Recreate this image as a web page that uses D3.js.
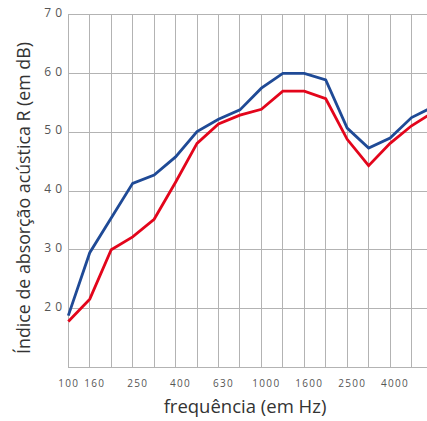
<!DOCTYPE html>
<html><head><meta charset="utf-8">
<script src="https://cdn.jsdelivr.net/npm/d3@7"></script>
<style>
html,body{margin:0;padding:0;background:#fff;}
svg{display:block;}
</style></head>
<body>
<script>
const bands = ["100","125","160","200","250","315","400","500","630","800","1000","1250","1600","2000","2500","3150","4000","5000"];
const blueSeries = [18.8, 29.5, 35.4, 41.3, 42.7, 45.8, 50.1, 52.2, 53.8, 57.5, 60.0, 60.0, 58.9, 50.7, 47.3, 49.0, 52.5, 54.3];
const redSeries  = [17.8, 21.6, 30.0, 32.2, 35.2, 41.5, 48.1, 51.4, 52.9, 53.9, 57.0, 57.0, 55.7, 48.8, 44.3, 48.1, 51.1, 53.4];
const xTickLabels = ["100","160","250","400","630","1000","1600","2500","4000"];
const xTickSlots  = [0, 1, 3, 5, 7, 9, 11, 13, 15];
const yTicks = [20, 30, 40, 50, 60, 70];

const W = 427, H = 421;
const svg = d3.select("body").append("svg").attr("width", W).attr("height", H);

const x = d3.scaleLinear().domain([0, bands.length - 1]).range([68.3, 433]);
const y = d3.scaleLinear().domain([10, 70]).range([367.3, 14.7]);

const grid = svg.append("g").attr("stroke", "#b3b3b3").attr("stroke-width", 1).attr("shape-rendering", "crispEdges");
grid.selectAll("line.v").data(bands).join("line").attr("class", "v")
  .attr("x1", (d, i) => x(i)).attr("x2", (d, i) => x(i))
  .attr("y1", y(70)).attr("y2", y(10));
grid.selectAll("line.h").data([10].concat(yTicks)).join("line").attr("class", "h")
  .attr("x1", x(0)).attr("x2", W)
  .attr("y1", d => y(d)).attr("y2", d => y(d));

const line = d3.line().x((d, i) => x(i)).y(d => y(d));
svg.append("path").datum(blueSeries).attr("d", line)
  .attr("fill", "none").attr("stroke", "#1f4a96").attr("stroke-width", 2.8).attr("stroke-linejoin", "miter");
svg.append("path").datum(redSeries).attr("d", line)
  .attr("fill", "none").attr("stroke", "#e3051b").attr("stroke-width", 2.8).attr("stroke-linejoin", "miter");

svg.append("g").selectAll("text").data(yTicks).join("text")
  .attr("x", 66).attr("y", d => y(d) - 1)
  .attr("text-anchor", "end").attr("dominant-baseline", "middle")
  .attr("font-family", "'Open Sans', sans-serif").attr("font-size", 12)
  .attr("letter-spacing", 4).attr("fill", "#555")
  .text(d => d);

svg.append("g").selectAll("text").data(xTickLabels).join("text")
  .attr("x", (d, i) => x(xTickSlots[i]) + (i === 0 ? 0.5 : 5))
  .attr("y", 386.5)
  .attr("text-anchor", "middle")
  .attr("font-family", "'Open Sans', sans-serif").attr("font-size", 10)
  .attr("letter-spacing", 1.3).attr("fill", "#555")
  .text(d => d);

svg.append("text")
  .attr("x", 245).attr("y", 413)
  .attr("text-anchor", "middle")
  .attr("font-family", "'Open Sans', sans-serif").attr("font-size", 18.5)
  .attr("fill", "#333").text("frequência (em Hz)");

svg.append("text")
  .attr("transform", "translate(30,198) rotate(-90)")
  .attr("text-anchor", "middle")
  .attr("font-family", "'Open Sans', sans-serif").attr("font-size", 17.8)
  .attr("fill", "#333").text("Índice de absorção acústica R (em dB)");
</script>
</body></html>
